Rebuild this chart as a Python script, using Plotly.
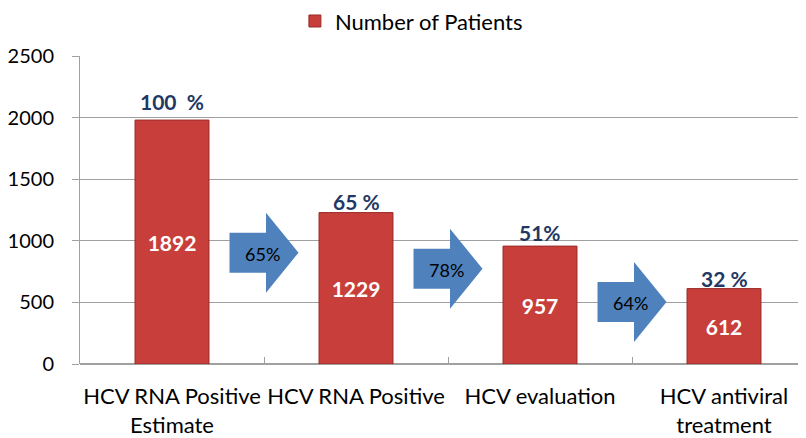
import plotly.graph_objects as go

# ---- data ----
categories = ["HCV RNA Positive<br>Estimate", "HCV RNA Positive", "HCV evaluation", "HCV antiviral<br>treatment"]
patients = [1980, 1229, 957, 612]          # bar heights as drawn
patient_labels = ["1892", "1229", "957", "612"]
pct_of_total = ["100  %", "65 %", "51%", "32 %"]
step_pct = ["65%", "78%", "64%"]
y_ticks = [0, 500, 1000, 1500, 2000, 2500]

# ---- styles / positions (not data) ----
FONT = "Lato"
BAR_COLOR = "#c83e3b"
ARROW_COLOR = "#4f81bd"
GRID = "#a0a0a0"
arrow_levels = [904, 773, 504]
pct_shift = [4, -3, -1, -4]

fig = go.Figure()
fig.add_trace(go.Bar(
    x=categories, y=patients, name="Number of Patients",
    marker=dict(color=BAR_COLOR, line=dict(color="#9a2b29", width=1)),
    text=patient_labels, textposition="inside", insidetextanchor="middle",
    textfont=dict(family=FONT, size=21, color="white", weight="bold"),
    textangle=0, cliponaxis=False,
))

annotations = []
for i, (cat, v, t) in enumerate(zip(categories, patients, pct_of_total)):
    annotations.append(dict(x=cat, y=v, xref="x", yref="y", text=t, showarrow=False,
                            yanchor="bottom", yshift=pct_shift[i],
                            font=dict(family=FONT, size=21, color="#1f3864", weight="bold")))

shapes = []
path = "M-34.5,-20 L2,-20 L2,-40 L34.5,0 L2,40 L2,20 L-34.5,20 Z"
for i, (lvl, t) in enumerate(zip(arrow_levels, step_pct)):
    shapes.append(dict(type="path", xref="x", yref="y", xsizemode="pixel", ysizemode="pixel",
                       xanchor=i + 0.5, yanchor=lvl, path=path,
                       fillcolor=ARROW_COLOR, line=dict(color=ARROW_COLOR, width=0), layer="above"))
    annotations.append(dict(x=i + 0.5, y=lvl, xref="x", yref="y", text=t, showarrow=False,
                            xshift=-2, yshift=-1,
                            font=dict(family=FONT, size=18, color="black")))

fig.update_layout(
    width=808, height=438,
    margin=dict(l=72, r=0, t=48, b=82, autoexpand=False),
    paper_bgcolor="white", plot_bgcolor="white",
    font=dict(family=FONT, size=22, color="black"),
    bargap=0.598,
    showlegend=True,
    legend=dict(orientation="h", x=0.292, xanchor="left", y=1.113, yanchor="middle",
                font=dict(family=FONT, size=22, color="black"), itemwidth=30),
    xaxis=dict(range=[-0.5, 3.5], showgrid=False, showline=False, automargin=False,
               ticks="inside", tickson="boundaries", ticklen=7, tickcolor=GRID,
               tickangle=0,
               tickfont=dict(family=FONT, size=22, color="black"), ticklabelstandoff=17),
    yaxis=dict(range=[0, 2500], tickvals=y_ticks, showgrid=True, gridcolor=GRID, gridwidth=1,
               showline=True, linecolor=GRID, zeroline=True, zerolinecolor=GRID,
               ticks="outside", ticklen=7, tickcolor=GRID, automargin=False,
               tickfont=dict(family=FONT, size=20, color="black"), ticklabelstandoff=14),
    annotations=annotations, shapes=shapes,
)

fig.write_html("out.html")
